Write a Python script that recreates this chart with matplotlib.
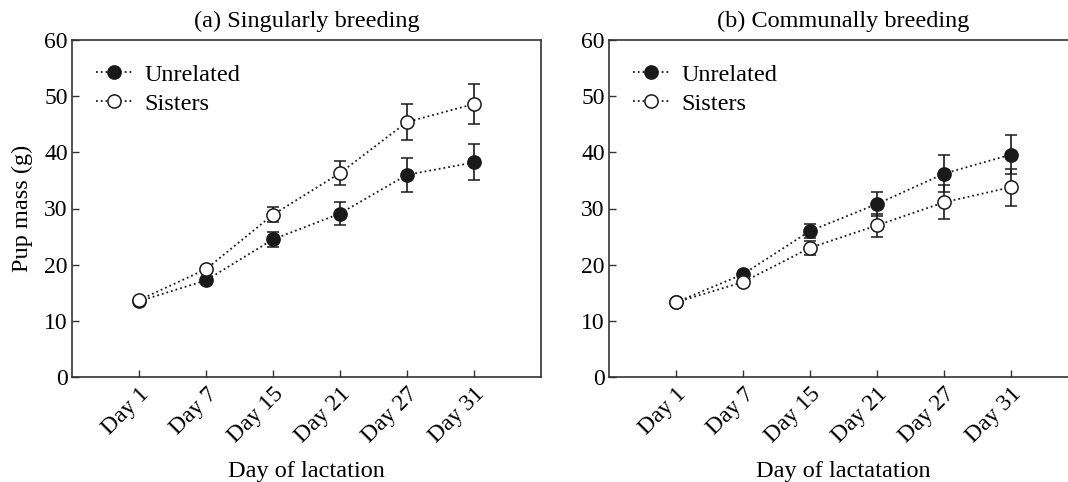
import numpy as np
import matplotlib
matplotlib.use('Agg')
import matplotlib.pyplot as plt

"""
Pup mass over lactation, singular vs communal breeding
"""

days = ['Day 1', 'Day 7', 'Day 15', 'Day 21', 'Day 27', 'Day 31']

# (a) singularly breeding
sing_unrel = [13.5, 17.2, 24.5, 29.1, 36.0, 38.2]
sing_unrel_se = [0.0, 0.0, 1.3, 2.0, 3.0, 3.2]
sing_sis = [13.7, 19.2, 28.9, 36.3, 45.4, 48.6]
sing_sis_se = [0.0, 0.0, 1.3, 2.2, 3.2, 3.5]

# (b) communally breeding
comm_unrel = [13.3, 18.3, 26.0, 30.8, 36.2, 39.6]
comm_unrel_se = [0.0, 0.0, 1.3, 2.2, 3.3, 3.5]
comm_sis = [13.3, 16.9, 23.0, 27.0, 31.1, 33.8]
comm_sis_se = [0.0, 0.0, 1.2, 2.0, 3.0, 3.3]

plt.rcParams['font.family'] = ['Liberation Serif', 'DejaVu Serif']
plt.rcParams['font.size'] = 17

fig = plt.figure(figsize=(10.68, 4.82), dpi=100)
W, H = 1068., 482.
ax_a = fig.add_axes([72/W, (H-377)/H, 469/W, 337/H])
ax_b = fig.add_axes([609/W, (H-377)/H, 469/W, 337/H])

def draw_panel(ax, unrel, unrel_se, sis, sis_se, title, xlabel, ylabel=None):
  x = np.arange(len(days))
  common = dict(ls=':', lw=1.3, color='#1a1a1a', ms=9.5, mew=1.1,
                elinewidth=1.2, capsize=4.5, capthick=1.2)
  ax.errorbar(x, unrel, yerr=unrel_se, marker='o', mfc='#1a1a1a',
              mec='#1a1a1a', label='Unrelated', zorder=3, **common)
  ax.errorbar(x, sis, yerr=sis_se, marker='o', mfc='white',
              mec='#1a1a1a', label='Sisters', zorder=4, **common)

  ax.set_xlim(-1, 6)
  ax.set_ylim(0, 60)
  ax.set_yticks(np.arange(0, 61, 10))
  ax.set_xticks(x)
  ax.set_xticklabels(days, rotation=45, ha='right', rotation_mode='anchor')
  ax.tick_params(direction='in', length=5, width=1.0, color='#333333',
                 labelsize=17)
  ax.tick_params(axis='x', pad=5)
  ax.tick_params(axis='y', pad=3)
  for s in ax.spines.values():
    s.set_linewidth(1.2)
    s.set_color('#333333')

  ax.set_title(title, fontsize=17.5, pad=9.5)
  ax.set_xlabel(xlabel, fontsize=17.5, labelpad=10)
  if ylabel:
    ax.set_ylabel(ylabel, fontsize=17.5, labelpad=8)

  handles, labels = ax.get_legend_handles_labels()
  handles = [h[0] for h in handles]
  ax.legend(handles, labels, loc='upper left', frameon=False,
            bbox_to_anchor=(0.005, 0.995), handlelength=1.5,
            handletextpad=0.5, labelspacing=0.3, fontsize=17.5)

draw_panel(ax_a, sing_unrel, sing_unrel_se, sing_sis, sing_sis_se,
           '(a) Singularly breeding', 'Day of lactation', 'Pup mass (g)')
draw_panel(ax_b, comm_unrel, comm_unrel_se, comm_sis, comm_sis_se,
           '(b) Communally breeding', 'Day of lactatation')

fig.savefig('out.png', dpi=100)
